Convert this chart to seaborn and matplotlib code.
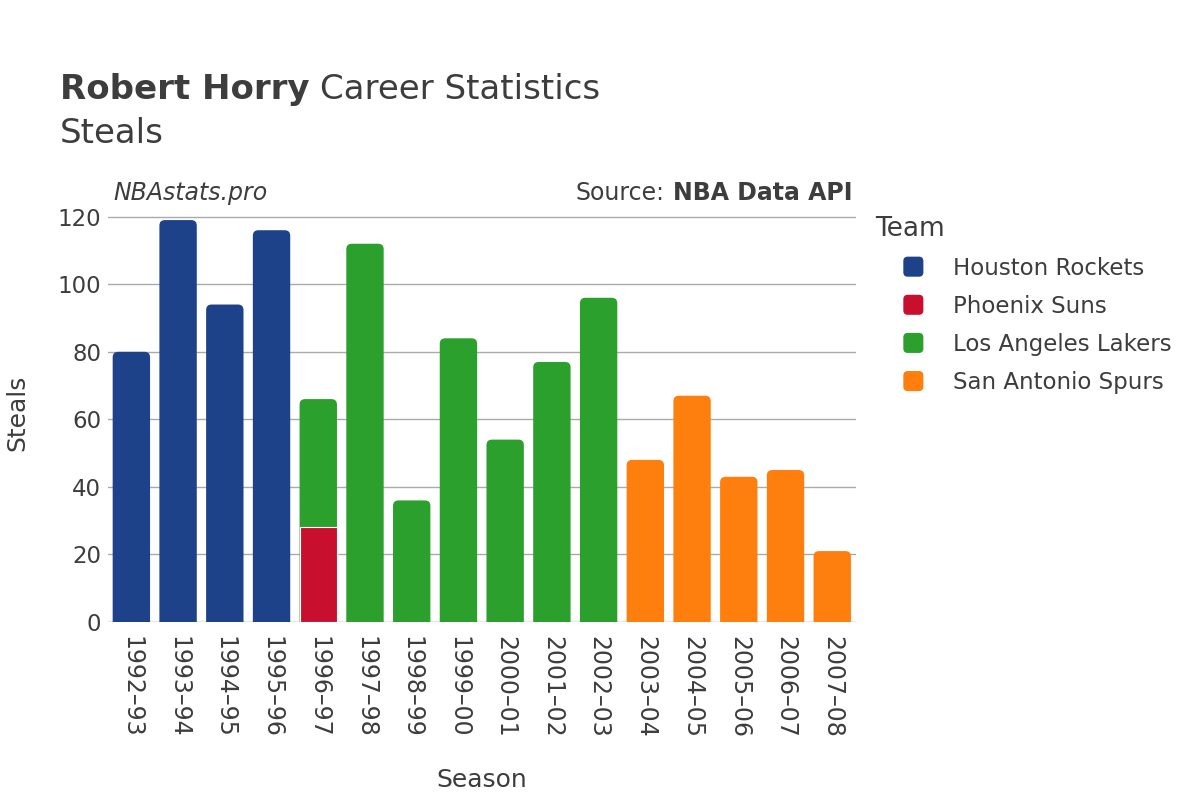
import pandas as pd
import matplotlib
matplotlib.use("Agg")
import matplotlib.pyplot as plt
import seaborn as sns
from matplotlib.patches import FancyBboxPatch, Patch
from matplotlib.legend_handler import HandlerPatch

# one row per season/team stint
seasons = ["1992–93", "1993–94", "1994–95", "1995–96", "1996–97", "1996–97",
           "1997–98", "1998–99", "1999–00", "2000–01", "2001–02", "2002–03",
           "2003–04", "2004–05", "2005–06", "2006–07", "2007–08"]
teams = ["Houston Rockets", "Houston Rockets", "Houston Rockets", "Houston Rockets",
         "Phoenix Suns", "Los Angeles Lakers",
         "Los Angeles Lakers", "Los Angeles Lakers", "Los Angeles Lakers",
         "Los Angeles Lakers", "Los Angeles Lakers", "Los Angeles Lakers",
         "San Antonio Spurs", "San Antonio Spurs", "San Antonio Spurs",
         "San Antonio Spurs", "San Antonio Spurs"]
steals = [80, 119, 94, 116, 28, 38, 112, 36, 84, 54, 77, 96, 48, 67, 43, 45, 21]

team_order = ["Houston Rockets", "Phoenix Suns", "Los Angeles Lakers", "San Antonio Spurs"]
team_colors = ["#1d428a", "#c8102e", "#2ca02c", "#ff7f0e"]

df = pd.DataFrame({"Season": seasons, "Team": teams, "Steals": steals})
season_order = list(dict.fromkeys(seasons))

# stacked: cumulative top of each segment within a season
df["Top"] = df.groupby("Season")["Steals"].cumsum()
last = df.groupby("Season").tail(1)       # top segments (rounded)
lower = df.drop(last.index)               # segments underneath

txt = "#3d3d3d"
sns.set_theme(style="white")
plt.rcParams["font.family"] = ["DejaVu Sans"]

fig = plt.figure(figsize=(12, 8), dpi=100)
ax = fig.add_axes([0.09, 0.2225, 0.623, 0.5235])

palette = dict(zip(team_order, team_colors))
sns.barplot(data=last, x="Season", y="Top", hue="Team", order=season_order,
            hue_order=team_order, palette=palette, dodge=False, width=0.8,
            saturation=1, legend=False, ax=ax)
n_top = len(ax.patches)
sns.barplot(data=lower, x="Season", y="Top", hue="Team", order=season_order,
            hue_order=team_order, palette=palette, dodge=False, width=0.8,
            saturation=1, legend=False, ax=ax)

ymax = 124
ax.set_ylim(0, ymax)
ax.set_xlim(-0.5, len(season_order) - 0.5)

# round the tops of the top segments
rx, ry = 0.12, 1.6
for p in ax.patches[:n_top]:
    h = p.get_height()
    if not h > 0:
        continue
    x0, w = p.get_x(), p.get_width()
    fc = p.get_facecolor()
    p.set_visible(False)
    fb = FancyBboxPatch((x0, -3 * ry), w, h + 3 * ry,
                        boxstyle=f"round,pad=0,rounding_size={rx}",
                        mutation_aspect=ry / rx, facecolor=fc, edgecolor="none",
                        zorder=2, clip_on=True)
    ax.add_patch(fb)
for p in ax.patches[n_top:]:
    if not isinstance(p, FancyBboxPatch):
        p.set_zorder(3)
        p.set_edgecolor("white")
        p.set_linewidth(0.8)

ax.set_yticks(range(0, 121, 20))
ax.yaxis.grid(True, color="#aaaaaa", linewidth=1)
ax.set_axisbelow(True)
ax.axhline(0, color="#e8e8e8", linewidth=2.5, zorder=1)
for s in ax.spines.values():
    s.set_visible(False)
ax.tick_params(axis="y", labelsize=16.5, labelcolor=txt, length=0, pad=5)
ax.tick_params(axis="x", labelsize=17, labelcolor=txt, length=0, pad=10,
               labelrotation=-90)
ax.set_xlabel("Season", fontsize=18, color=txt, labelpad=22)
ax.set_ylabel("Steals", fontsize=18, color=txt, labelpad=20)

t1 = fig.text(0.05, 0.876, "Robert Horry", fontsize=24.5, fontweight="bold", color=txt)
fig.text(0.05, 0.821, "Steals", fontsize=24.5, color=txt)

ax.text(0.007, 0.996, "NBAstats.pro", transform=ax.transAxes, fontsize=17,
        style="italic", color=txt, ha="left", va="bottom")
s2 = ax.text(0.996, 0.996, "NBA Data API", transform=ax.transAxes, fontsize=17,
             fontweight="bold", color=txt, ha="right", va="bottom")

fig.canvas.draw()
r = fig.canvas.get_renderer()
b1 = t1.get_window_extent(r)
fig.text(b1.x1 / fig.bbox.width + 0.009, 0.876, "Career Statistics",
         fontsize=24.5, color=txt)
b2 = s2.get_window_extent(r)
fig.text(b2.x0 / fig.bbox.width - 0.007, b2.y0 / fig.bbox.height, "Source:",
         fontsize=17, color=txt, ha="right", va="bottom")


class RoundHandler(HandlerPatch):
    def create_artists(self, legend, orig, xd, yd, width, height, fontsize, trans):
        s = min(width, height) * 1.25
        cx, cy = xd + width / 2 - s / 2 + 14, yd + height / 2 - s / 2
        p = FancyBboxPatch((cx, cy), s, s, boxstyle=f"round,pad=0,rounding_size={s*0.22}",
                           facecolor=orig.get_facecolor(), edgecolor="none",
                           transform=trans)
        return [p]


handles = [Patch(facecolor=c) for c in team_colors]
leg = fig.legend(handles, team_order, title="Team", loc="upper left",
                 bbox_to_anchor=(0.722, 0.742), frameon=False, fontsize=16.5,
                 title_fontsize=19, labelspacing=0.66, handletextpad=1.8,
                 handlelength=1.6, borderaxespad=0,
                 handler_map={Patch: RoundHandler()})
for t in leg.get_texts():
    t.set_color(txt)
leg.get_title().set_color(txt)
leg._legend_box.align = "left"

fig.savefig("out.png", dpi=100)
